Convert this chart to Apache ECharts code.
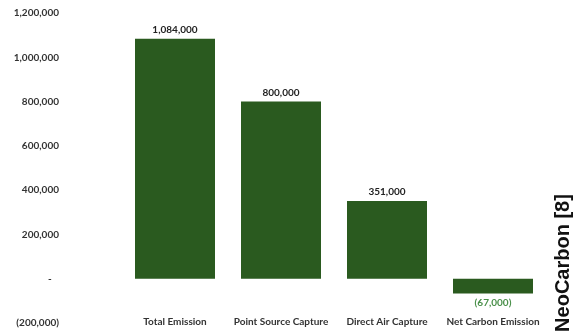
<!DOCTYPE html>
<html><head><meta charset="utf-8">
<script src="https://cdn.jsdelivr.net/npm/echarts@6/dist/echarts.min.js"></script>
<style>html,body{margin:0;padding:0;background:#fff}#c{width:574px;height:333px}</style>
</head><body><div id="c"></div>
<script>
const categories = ['Total Emission', 'Point Source Capture', 'Direct Air Capture', 'Net Carbon Emission'];
const values = [1084000, 800000, 351000, -67000];
const yTicks = [-200000, 0, 200000, 400000, 600000, 800000, 1000000, 1200000];
const sourceNote = 'NeoCarbon [8]';

function fmt(v) {
  if (v === 0) return '-   ';
  const s = Math.abs(v).toLocaleString('en-US');
  return v < 0 ? '(' + s + ')' : s;
}
const FONT = 'Lato, "Open Sans", sans-serif';
const chart = echarts.init(document.getElementById('c'));
chart.setOption({
  animation: false,
  backgroundColor: '#fff',
  grid: { left: 122, right: 28, top: 13, bottom: 10 },
  xAxis: {
    type: 'category', data: categories,
    axisLine: { show: false }, axisTick: { show: false },
    axisLabel: { margin: -6, color: '#333', fontSize: 10, fontWeight: 'bold', fontFamily: FONT, interval: 0 }
  },
  yAxis: {
    type: 'value', min: yTicks[0], max: yTicks[yTicks.length - 1], interval: 200000,
    splitLine: { show: false }, axisLine: { show: false }, axisTick: { show: false },
    axisLabel: { margin: 63, color: '#333', fontSize: 10, fontWeight: 'bold', fontFamily: FONT, formatter: fmt }
  },
  series: [{
    type: 'bar', barWidth: 80,
    data: values.map(v => v < 0 ? { value: v, label: { position: 'bottom', color: '#4a904a' } } : v),
    itemStyle: { color: '#2a5a1f' },
    label: { show: true, position: 'top', distance: 4, color: '#222', fontSize: 10, fontWeight: 'bold', fontFamily: FONT, formatter: p => fmt(p.value) }
  }],
  graphic: [{
    type: 'text', x: 563, y: 263, rotation: Math.PI / 2,
    style: { text: sourceNote, fill: '#111', font: 'bold 20px "Liberation Sans", Arial, sans-serif', textAlign: 'center', textVerticalAlign: 'middle' }
  }]
});
</script></body></html>
